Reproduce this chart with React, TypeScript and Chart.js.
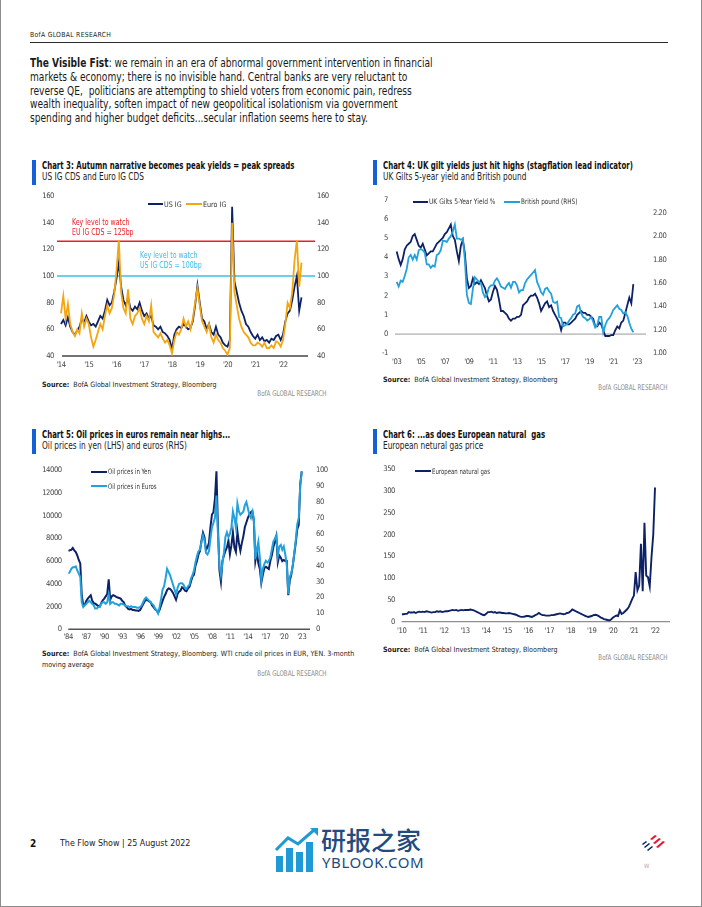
import React, { useEffect, useRef } from "react";
import { Chart, registerables } from "chart.js";

Chart.register(...registerables);

const FONT = '"DejaVu Sans Condensed", "Liberation Sans", sans-serif';
const NAVY = "#0d2166";
const ORANGE = "#f4a510";
const LIGHT_BLUE = "#22a1dc";
const RED = "#ec1d25";
const CYAN = "#38bfeb";
const ACCENT = "#1560d4";
const TICK_COLOR = "#444444";

/* ---------------- Chart 3: US IG CDS and Euro IG CDS (monthly from Jan 2014) ---------------- */
const cdsStart = 2014;
const usIG = [
  64, 67, 63, 69, 62, 58, 56, 59, 62, 68, 65, 70,
  66, 63, 64, 62, 66, 70, 68, 74, 82, 78, 80, 88,
  98, 110, 92, 82, 78, 84, 76, 74, 77, 75, 80, 74,
  70, 72, 68, 70, 63, 62, 60, 62, 58, 57, 55, 52,
  45, 56, 60, 62, 61, 64, 62, 60, 61, 66, 78, 93,
  80, 68, 66, 60, 64, 58, 56, 62, 56, 54, 50, 48,
  47, 52, 152, 96, 88, 80, 74, 70, 64, 62, 58, 55,
  53, 56, 52, 54, 51, 52, 50, 53, 52, 55, 56, 52,
  56, 66, 72, 74, 82, 92, 100, 74, 84,
];
const euroIG = [
  72, 85, 68, 79, 64, 58, 55, 60, 57, 72, 62, 68,
  64, 54, 47, 52, 58, 64, 60, 70, 78, 72, 76, 86,
  104, 127, 88, 76, 72, 90, 68, 64, 70, 72, 76, 68,
  64, 70, 66, 78, 58, 56, 54, 57, 53, 50, 52, 48,
  42, 52, 58, 56, 60, 68, 62, 66, 60, 68, 80, 91,
  78, 66, 62, 58, 64, 54, 50, 56, 52, 50, 46, 44,
  41, 46, 140, 88, 78, 68, 62, 58, 56, 54, 50, 48,
  48, 50, 49, 47, 50, 46, 46, 48, 46, 51, 50, 47,
  52, 64, 80, 76, 88, 112, 127, 92, 110,
];
const cdsRange = [2013.856, 2023.153];
const cdsYears = [2014, 2015, 2016, 2017, 2018, 2019, 2020, 2021, 2022];
const cdsYearLabels = ["'14", "'15", "'16", "'17", "'18", "'19", "'20", "'21", "'22"];
const cdsAxisTicks = [40, 60, 80, 100, 120, 140, 160];
const euKeyLevel = 126;
const usKeyLevel = 100;

/* ---------------- Chart 4: UK 5y gilt yield and GBP (every two months from Jan 2003) ---------------- */
const giltStart = 2003;
const giltYield = [
  4.3, 3.9, 3.6, 3.9, 4.4, 4.6,
  4.7, 4.8, 5.1, 5.2, 4.9, 4.6,
  4.5, 4.7, 4.4, 4.1, 4.2, 4.3,
  4.3, 4.5, 4.7, 4.8, 4.9, 5.0,
  5.2, 5.3, 5.5, 5.7, 5.1, 4.9,
  4.3, 3.8, 4.6, 4.9, 4.2, 2.9,
  2.4, 2.5, 2.9, 2.6, 2.7, 2.6,
  2.8, 2.6, 2.4, 2.0, 1.7, 1.8,
  2.2, 2.5, 2.3, 1.8, 1.2, 1.2,
  1.1, 1.0, 0.8, 0.7, 0.8, 0.8,
  0.9, 0.9, 1.0, 1.5, 1.6, 1.7,
  1.9, 2.0, 2.0, 2.1, 1.9, 1.6,
  1.2, 1.4, 1.6, 1.7, 1.4, 1.5,
  1.2, 1.0, 0.8, 0.6, 0.2, 0.6,
  0.6, 0.5, 0.5, 0.6, 0.7, 0.8,
  1.0, 1.1, 1.2, 1.1, 1.1, 1.0,
  1.0, 0.9, 0.8, 0.4, 0.4, 0.6,
  0.5, 0.2, -0.1, -0.1, -0.1, -0.05,
  -0.05, 0.2, 0.4, 0.3, 0.6, 0.7,
  1.1, 1.5, 1.9, 1.6, 2.6,
];
const gbpUsd = [
  1.61, 1.57, 1.62, 1.61, 1.66, 1.72,
  1.82, 1.84, 1.80, 1.84, 1.80, 1.88,
  1.89, 1.88, 1.86, 1.76, 1.76, 1.73,
  1.75, 1.74, 1.84, 1.85, 1.88, 1.96,
  1.96, 1.95, 1.98, 2.00, 2.04, 2.10,
  1.98, 1.98, 1.97, 1.98, 1.80, 1.50,
  1.43, 1.42, 1.55, 1.65, 1.63, 1.61,
  1.60, 1.52, 1.48, 1.50, 1.56, 1.58,
  1.58, 1.62, 1.64, 1.61, 1.57, 1.56,
  1.55, 1.58, 1.60, 1.56, 1.61, 1.61,
  1.58, 1.52, 1.54, 1.54, 1.60, 1.63,
  1.65, 1.67, 1.69, 1.71, 1.61, 1.57,
  1.52, 1.50, 1.55, 1.56, 1.53, 1.51,
  1.44, 1.43, 1.44, 1.31, 1.30, 1.23,
  1.24, 1.25, 1.28, 1.30, 1.33, 1.34,
  1.40, 1.41, 1.34, 1.31, 1.30, 1.28,
  1.29, 1.31, 1.27, 1.22, 1.24, 1.31,
  1.31, 1.18, 1.24, 1.28, 1.30, 1.33,
  1.37, 1.39, 1.41, 1.38, 1.37, 1.34,
  1.35, 1.32, 1.26, 1.21, 1.18,
];
const giltRange = [2002.86, 2023.72];
const giltYears = [2003, 2005, 2007, 2009, 2011, 2013, 2015, 2017, 2019, 2021, 2023];
const giltYearLabels = ["'03", "'05", "'07", "'09", "'11", "'13", "'15", "'17", "'19", "'21", "'23"];
const yieldTicks = [-1, 0, 1, 2, 3, 4, 5, 6, 7];
const gbpRange = [1.0, 2.313];
const gbpTicks = [1.0, 1.2, 1.4, 1.6, 1.8, 2.0, 2.2];

/* ---------------- Chart 5: oil in yen and euros (quarterly from 1984) ---------------- */
const oilStart = 1984;
const oilYen = [
  6900, 6950, 6980, 7150,
  6950, 6800, 6500, 6100,
  5800, 3000, 2100, 2150,
  2500, 2700, 2850, 3000,
  2500, 2300, 2250, 2150,
  2050, 2000, 2300, 2550,
  2700, 2900, 3100, 4400,
  2600, 2900, 3000, 2950,
  2850, 2800, 2750, 2700,
  2500, 2400, 2100, 1950,
  1800, 1750, 1800, 1700,
  1700, 1650, 1650, 1620,
  1700, 1950, 2200, 2450,
  2600, 2550, 2450, 2400,
  2100, 1950, 1750, 1650,
  1450, 1700, 2100, 2500,
  2850, 3100, 3450, 3600,
  3550, 3400, 3200, 2900,
  2600, 3100, 3300, 3400,
  3700, 3600, 3400, 3350,
  3600, 3750, 4200, 4650,
  4800, 5600, 6000, 6600,
  6900, 7800, 8500, 8100,
  7000, 7200, 7600, 9000,
  10100, 10300, 11500, 13900,
  9000, 5200, 4200, 6000,
  6500, 6900, 7200, 7800,
  6600, 7400, 8500, 7200,
  6800, 8600, 7600, 6900,
  7600, 8200, 9000, 9400,
  9800, 10100, 10300, 10400,
  9500, 6000, 6800, 5800,
  5300, 4100, 4800, 5400,
  5500, 5400, 5300, 6000,
  6500, 7200, 7700, 8200,
  5900, 6500, 6300, 6000,
  6100, 6000, 6000, 3000,
  4300, 4800, 5600, 6600,
  7600, 8800, 9200, 12800,
  13900,
];
const oilEuro = [
  35, 36, 38, 39,
  39, 39.5, 37, 35,
  33, 17, 14, 15,
  16, 17, 18, 17,
  16, 15, 13, 13,
  14, 14, 16, 17,
  17, 16, 17, 22,
  16, 17, 17, 16,
  16, 15.5, 15, 16,
  16, 15.5, 15, 14.5,
  14.5, 14, 14.5, 14,
  14, 14, 13.5, 13.5,
  14, 15, 17, 19,
  20, 19, 18, 17,
  16, 15, 13, 12,
  10, 14, 19, 25,
  27, 32, 38, 36,
  34, 31, 28, 25,
  22, 26, 28.5, 29,
  29, 28, 26, 25.5,
  27, 28, 32, 34,
  37, 42, 46, 49,
  50, 55, 59, 56,
  48, 47, 49, 57,
  64, 67, 70, 84,
  60, 40, 34, 42,
  48, 58, 61, 58,
  60, 64, 74, 70,
  64, 79, 74, 72,
  73, 74, 78, 80,
  76, 72, 70, 74,
  70, 44, 50, 55,
  45, 31, 38, 41,
  43, 42, 43, 45,
  50, 55, 57, 59,
  46, 52, 53, 50,
  52, 47, 41, 22,
  33, 35, 40, 48,
  56, 66, 70, 90,
  99,
];
const oilRange = [1984, 2024.38];
const oilYears = [1984, 1987, 1990, 1993, 1996, 1999, 2002, 2005, 2008, 2011, 2014, 2017, 2020, 2023];
const oilYearLabels = ["'84", "'87", "'90", "'93", "'96", "'99", "'02", "'05", "'08", "'11", "'14", "'17", "'20", "'23"];
const yenTicks = [0, 2000, 4000, 6000, 8000, 10000, 12000, 14000];
const euroTicks = [0, 10, 20, 30, 40, 50, 60, 70, 80, 90, 100];

/* ---------------- Chart 6: European natural gas (monthly from 2010) ---------------- */
const gasStart = 2010;
const euGas = [
  17, 17, 18, 18, 22, 21, 21, 22, 20, 22, 23, 22,
  23, 22, 24, 23, 22, 21, 22, 22, 24, 23, 24, 22,
  23, 24, 24, 25, 26, 27, 26, 27, 25, 26, 27, 26,
  27, 27, 27, 28, 27, 26, 24, 22, 20, 18, 16, 15,
  18, 22, 22, 23, 21, 22, 20, 21, 21, 20, 20, 19,
  19, 20, 19, 18, 17, 16, 14, 12, 11, 11, 12, 13,
  13, 12, 11, 13, 15, 17, 20, 17, 15, 15, 14, 14,
  14, 15, 15, 16, 17, 18, 19, 18, 17, 18, 20, 21,
  24, 28, 26, 24, 22, 20, 18, 16, 14, 12, 11, 12,
  13, 15, 16, 15, 13, 10, 8, 6, 5, 4, 3, 5,
  9, 12, 14, 13, 26, 18, 20, 24, 28, 33, 42, 52,
  60, 114, 72, 83, 179, 70, 227, 106, 102, 81, 148, 200,
  308,
];
const gasRange = [2010, 2022.71];
const gasYears = [2010, 2011, 2012, 2013, 2014, 2015, 2016, 2017, 2018, 2019, 2020, 2021, 2022];
const gasYearLabels = ["'10", "'11", "'12", "'13", "'14", "'15", "'16", "'17", "'18", "'19", "'20", "'21", "'22"];
const gasTicks = [0, 50, 100, 150, 200, 250, 300, 350];

/* ---------------- helpers ---------------- */
const series = (start: number, perYear: number, values: number[]) =>
  values.map((v, i) => ({ x: start + i / perYear, y: v }));

const tickFont = { family: FONT, size: 7.6 };
const TICK_SPACING = "-0.45px";

function xAxis(range: number[], ticks: number[], labels: string[], padding: number, height: number) {
  return {
    type: "linear",
    min: range[0],
    max: range[1],
    grid: { display: false, drawTicks: false },
    border: { display: false },
    afterBuildTicks: (s: any) => {
      s.ticks = ticks.map((v) => ({ value: v }));
    },
    ticks: {
      autoSkip: false,
      maxRotation: 0,
      padding,
      font: tickFont,
      color: TICK_COLOR,
      callback: (_v: any, i: number) => labels[i],
    },
    afterFit: (s: any) => {
      s.height = height;
    },
  };
}

function yAxis(position: string, range: number[], ticks: number[], fmt: (v: number) => string, padding: number, width: number) {
  return {
    type: "linear",
    position,
    min: range[0],
    max: range[1],
    grid: { display: false, drawTicks: false },
    border: { display: false },
    afterBuildTicks: (s: any) => {
      s.ticks = ticks.map((v) => ({ value: v }));
    },
    ticks: { padding, font: tickFont, color: TICK_COLOR, callback: (v: any) => fmt(Number(v)) },
    afterFit: (s: any) => {
      s.width = width;
    },
  };
}

const hLines = {
  id: "hLines",
  beforeDatasetsDraw(chart: any, _args: any, opts: any) {
    const { ctx, chartArea } = chart;
    for (const l of opts.lines || []) {
      const y = chart.scales[l.axis].getPixelForValue(l.value);
      ctx.save();
      ctx.strokeStyle = l.color;
      ctx.lineWidth = l.width;
      ctx.beginPath();
      ctx.moveTo(chartArea.left + (l.insetL || 0), y);
      ctx.lineTo(chartArea.right - (l.insetR || 0), y);
      ctx.stroke();
      ctx.restore();
    }
  },
};

const tightText = {
  id: "tightText",
  beforeUpdate(chart: any) {
    chart.ctx.letterSpacing = TICK_SPACING;
  },
  beforeLayout(chart: any) {
    chart.ctx.letterSpacing = TICK_SPACING;
  },
  beforeDraw(chart: any) {
    chart.ctx.letterSpacing = TICK_SPACING;
  },
};

function baseOptions(padding: any, scales: any, lines: any[]) {
  return {
    responsive: true,
    maintainAspectRatio: false,
    animation: false,
    events: [],
    layout: { padding },
    scales,
    elements: { point: { radius: 0 }, line: { tension: 0 } },
    plugins: {
      legend: { display: false },
      tooltip: { enabled: false },
      title: { display: false },
      hLines: { lines },
    },
  };
}

const line = (data: any, color: string, width: number, axis: string) => ({
  data,
  borderColor: color,
  backgroundColor: color,
  borderWidth: width,
  pointRadius: 0,
  fill: false,
  yAxisID: axis,
});

const config3 = () => ({
  type: "line",
  data: {
    datasets: [
      line(series(cdsStart, 12, euroIG), ORANGE, 1.8, "y"),
      line(series(cdsStart, 12, usIG), NAVY, 1.8, "y"),
    ],
  },
  options: baseOptions(
    { top: 10, left: 0, right: 0, bottom: 0 },
    {
      x: xAxis(cdsRange, cdsYears, cdsYearLabels, 4, 20),
      y: yAxis("left", [40, 160], cdsAxisTicks, (v) => String(v), 3, 37),
      y1: yAxis("right", [40, 160], cdsAxisTicks, (v) => String(v), 2, 25),
    },
    [
      { axis: "y", value: 40, color: "#444", width: 1.5, insetL: 5, insetR: 7 },
      { axis: "y", value: usKeyLevel, color: CYAN, width: 1.5 },
      { axis: "y", value: euKeyLevel, color: RED, width: 1.5 },
    ]
  ),
  plugins: [hLines, tightText],
});

const config4 = () => ({
  type: "line",
  data: {
    datasets: [
      line(series(giltStart, 6, gbpUsd), LIGHT_BLUE, 1.8, "y1"),
      line(series(giltStart, 6, giltYield), NAVY, 1.8, "y"),
    ],
  },
  options: baseOptions(
    { top: 10.3, left: 0, right: 0, bottom: 0 },
    {
      x: xAxis(giltRange, giltYears, giltYearLabels, 4, 19.7),
      y: yAxis("left", [-1, 7], yieldTicks, (v) => String(v), 7, 35),
      y1: yAxis("right", gbpRange, gbpTicks, (v) => v.toFixed(2), 7, 44),
    },
    [{ axis: "y", value: 0, color: "#9a9a9a", width: 1 }]
  ),
  plugins: [hLines, tightText],
});

const config5 = () => ({
  type: "line",
  data: {
    datasets: [
      line(series(oilStart, 4, oilEuro), LIGHT_BLUE, 2, "y1"),
      line(series(oilStart, 4, oilYen), NAVY, 2, "y"),
    ],
  },
  options: baseOptions(
    { top: 10, left: 0, right: 0, bottom: 0 },
    {
      x: xAxis(oilRange, oilYears, oilYearLabels, 3.5, 19.7),
      y: yAxis("left", [0, 14000], yenTicks, (v) => String(v), 6.6, 48.3),
      y1: yAxis("right", [0, 100], euroTicks, (v) => String(v), 6, 30),
    },
    [{ axis: "y", value: 0, color: "#555", width: 1.5 }]
  ),
  plugins: [hLines, tightText],
});

const config6 = () => ({
  type: "line",
  data: {
    datasets: [line(series(gasStart, 12, euGas), NAVY, 1.9, "y")],
  },
  options: baseOptions(
    { top: 10.3, left: 0, right: 10, bottom: 0 },
    {
      x: xAxis(gasRange, gasYears, gasYearLabels, 4.5, 21.3),
      y: yAxis("left", [0, 350], gasTicks, (v) => String(v), 6.7, 41.7),
    },
    [{ axis: "y", value: 0, color: "#8f8f8f", width: 1.2 }]
  ),
  plugins: [hLines, tightText],
});

/* ---------------- components ---------------- */
function ChartBox({ left, top, width, height, build }: any) {
  const ref = useRef<HTMLCanvasElement>(null);
  useEffect(() => {
    const chart = new Chart(ref.current as HTMLCanvasElement, build());
    return () => chart.destroy();
  }, []);
  return (
    <div style={{ position: "absolute", left, top, width, height }}>
      <canvas ref={ref} />
    </div>
  );
}

function Txt({ x, y, size, bold, color, ls, right, family, weight, sx, children }: any) {
  const lh = Math.round(size * 1.25);
  const style: any = {
    position: "absolute",
    top: y - lh / 2,
    fontSize: size,
    lineHeight: lh + "px",
    whiteSpace: "pre",
    fontWeight: weight || (bold ? 700 : 400),
    color: color || "#1a1a1a",
    letterSpacing: ls || 0,
    fontFamily: family || FONT,
    transform: sx ? `scaleX(${sx})` : undefined,
    transformOrigin: right ? "right center" : "left center",
  };
  if (right) style.right = 702 - x;
  else style.left = x;
  return <div style={style}>{children}</div>;
}

function Rect({ x, y, w, h, c }: any) {
  return <div style={{ position: "absolute", left: x, top: y, width: w, height: h, background: c }} />;
}

function Legend({ x1, x2, y, color, label, sx }: any) {
  return (
    <>
      <Rect x={x1} y={y - 1} w={x2 - x1} h={2} c={color} />
      <Txt x={x2 + 1} y={y} size={7.5} color="#333" sx={sx}>
        {label}
      </Txt>
    </>
  );
}

function Header({ x, y, title, subtitle }: any) {
  return (
    <>
      <Rect x={x - 10} y={y - 6} w={4.3} h={25} c={ACCENT} />
      <Txt x={x} y={y} size={9.8} bold color="#111" sx={0.795}>
        {title}
      </Txt>
      <Txt x={x} y={y + 11} size={9.8} color="#222" sx={0.84}>
        {subtitle}
      </Txt>
    </>
  );
}

function Source({ x, y, text }: any) {
  return (
    <Txt x={x} y={y} size={7.3} color="#222" sx={0.97}>
      <b>Source:</b>
      {"  " + text}
    </Txt>
  );
}

function Credit({ right, y }: any) {
  return (
    <Txt x={right} y={y} size={7.8} right color="#8a8a8a" sx={0.8}>
      BofA GLOBAL RESEARCH
    </Txt>
  );
}

export default function App() {
  return (
    <div
      style={{
        position: "absolute",
        left: 0,
        top: 0,
        width: 702,
        height: 907,
        background: "#fff",
        overflow: "hidden",
        fontFamily: FONT,
      }}
    >
      {/* page frame */}
      <Rect x={0} y={0} w={1} h={907} c="#8c8c8c" />
      <Rect x={701} y={0} w={1} h={907} c="#8c8c8c" />
      <Rect x={0} y={906} w={702} h={1} c="#8c8c8c" />

      {/* running header */}
      <Txt x={30} y={35.7} size={7} ls={0.3} color="#222" sx={0.97}>
        BofA GLOBAL RESEARCH
      </Txt>
      <Rect x={30} y={42} w={638} h={1} c="#2a2a2a" />

      {/* paragraph */}
      <div
        style={{
          position: "absolute",
          left: 30,
          top: 57,
          fontSize: 12.2,
          lineHeight: "13.8px",
          whiteSpace: "pre",
          color: "#1a1a1a",
          transform: "scaleX(0.83)",
          transformOrigin: "left top",
        }}
      >
        <b>The Visible Fist</b>
        {": we remain in an era of abnormal government intervention in financial\n"}
        {"markets & economy; there is no invisible hand. Central banks are very reluctant to\n"}
        {"reverse QE,  politicians are attempting to shield voters from economic pain, redress\n"}
        {"wealth inequality, soften impact of new geopolitical isolationism via government\n"}
        {"spending and higher budget deficits...secular inflation seems here to stay."}
      </div>

      {/* Chart 3 */}
      <Header x={41.7} y={165.7} title="Chart 3: Autumn narrative becomes peak yields = peak spreads" subtitle="US IG CDS and Euro IG CDS" />
      <ChartBox left={20} top={186} width={320} height={190} build={config3} />
      <Legend x1={147.7} x2={163.3} y={204} color={NAVY} label="US IG" sx={0.95} />
      <Legend x1={185.7} x2={202.3} y={204} color={ORANGE} label="Euro IG" sx={0.95} />
      <Txt x={72} y={221.7} size={8.3} color={RED} sx={0.84}>
        Key level to watch
      </Txt>
      <Txt x={72} y={231.7} size={8.3} color={RED} sx={0.84}>
        EU IG CDS = 125bp
      </Txt>
      <Txt x={140} y={255} size={8.3} color={CYAN} sx={0.84}>
        Key level to watch
      </Txt>
      <Txt x={140} y={264.5} size={8.3} color={CYAN} sx={0.84}>
        US IG CDS = 100bp
      </Txt>
      <Source x={41.7} y={384.7} text="BofA Global Investment Strategy, Bloomberg" />
      <Credit right={327} y={394} />

      {/* Chart 4 */}
      <Header x={382.7} y={165.7} title="Chart 4: UK gilt yields just hit highs (stagflation lead indicator)" subtitle="UK Gilts 5-year yield and British pound" />
      <ChartBox left={360} top={188} width={330} height={185} build={config4} />
      <Legend x1={413} x2={428} y={201.7} color={NAVY} label="UK Gilts 5-Year Yield %" sx={0.88} />
      <Legend x1={504} x2={520} y={201.7} color={LIGHT_BLUE} label="British pound (RHS)" sx={0.85} />
      <Source x={382.7} y={379.3} text="BofA Global Investment Strategy, Bloomberg" />
      <Credit right={668} y={388.3} />

      {/* Chart 5 */}
      <Header x={41.7} y={435} title="Chart 5: Oil prices in euros remain near highs..." subtitle="Oil prices in yen (LHS) and euros (RHS)" />
      <ChartBox left={20} top={459} width={320} height={190} build={config5} />
      <Legend x1={91} x2={107.3} y={471.7} color={NAVY} label="Oil prices in Yen" sx={0.8} />
      <Legend x1={91} x2={107.3} y={486} color={LIGHT_BLUE} label="Oil prices in Euros" sx={0.8} />
      <Source x={41.7} y={653.3} text="BofA Global Investment Strategy, Bloomberg. WTI crude oil prices in EUR, YEN. 3-month" />
      <Txt x={41.7} y={664.3} size={7.3} color="#222" sx={0.97}>
        moving average
      </Txt>
      <Credit right={327} y={674} />

      {/* Chart 6 */}
      <Header x={382.7} y={435} title="Chart 6: ...as does European natural  gas" subtitle="European netural gas price" />
      <ChartBox left={360} top={458} width={320} height={185} build={config6} />
      <Legend x1={415} x2={430.7} y={471} color={NAVY} label="European natural gas" sx={0.8} />
      <Source x={382.7} y={649.3} text="BofA Global Investment Strategy, Bloomberg" />
      <Credit right={668} y={658.3} />

      {/* footer */}
      <Txt x={30} y={843} size={10} bold color="#111">
        2
      </Txt>
      <Txt x={60} y={843} size={9.5} color="#222" sx={0.93}>
        The Flow Show | 25 August 2022
      </Txt>

      {/* watermark */}
      <svg style={{ position: "absolute", left: 274, top: 828 }} width={46} height={44} viewBox="0 0 46 44">
        <rect x={2} y={28} width={7} height={16} fill="#1f9ad6" />
        <rect x={12} y={20} width={7} height={24} fill="#1f9ad6" />
        <rect x={22} y={24} width={7} height={20} fill="#1f9ad6" />
        <rect x={32} y={14} width={7} height={30} fill="#1f9ad6" />
        <polyline points="2,22 14,10 24,16 40,2" fill="none" stroke="#1f9ad6" strokeWidth={3} />
        <polygon points="36,0 44,0 44,8" fill="#1f9ad6" />
      </svg>
      <Txt x={321} y={839} size={25} weight={500} color="#244a7e" family='"Noto Sans CJK SC", sans-serif'>
        研报之家
      </Txt>
      <Txt x={322} y={862} size={15} color="#244a7e" ls={0.6} family='"Noto Sans", sans-serif'>
        YBLOOK.COM
      </Txt>

      {/* BofA flag logo */}
      <svg style={{ position: "absolute", left: 640, top: 835 }} width={28} height={16} viewBox="0 0 28 16">
        <polygon points="2,9 6,6 7,7 3,10" fill="#012169" />
        <polygon points="4,12 9,8 10,9 5,13" fill="#012169" />
        <polygon points="7,15 12,11 13,12 8,16" fill="#012169" />
        <polygon points="10,4 15,0 17,1 12,5" fill="#e31837" />
        <polygon points="13,8 19,3 21,4 15,9" fill="#e31837" />
        <polygon points="16,12 23,6 25,7 18,13" fill="#e31837" />
      </svg>
      <Txt x={644} y={866} size={6} color="#aaa">
        W
      </Txt>
    </div>
  );
}
